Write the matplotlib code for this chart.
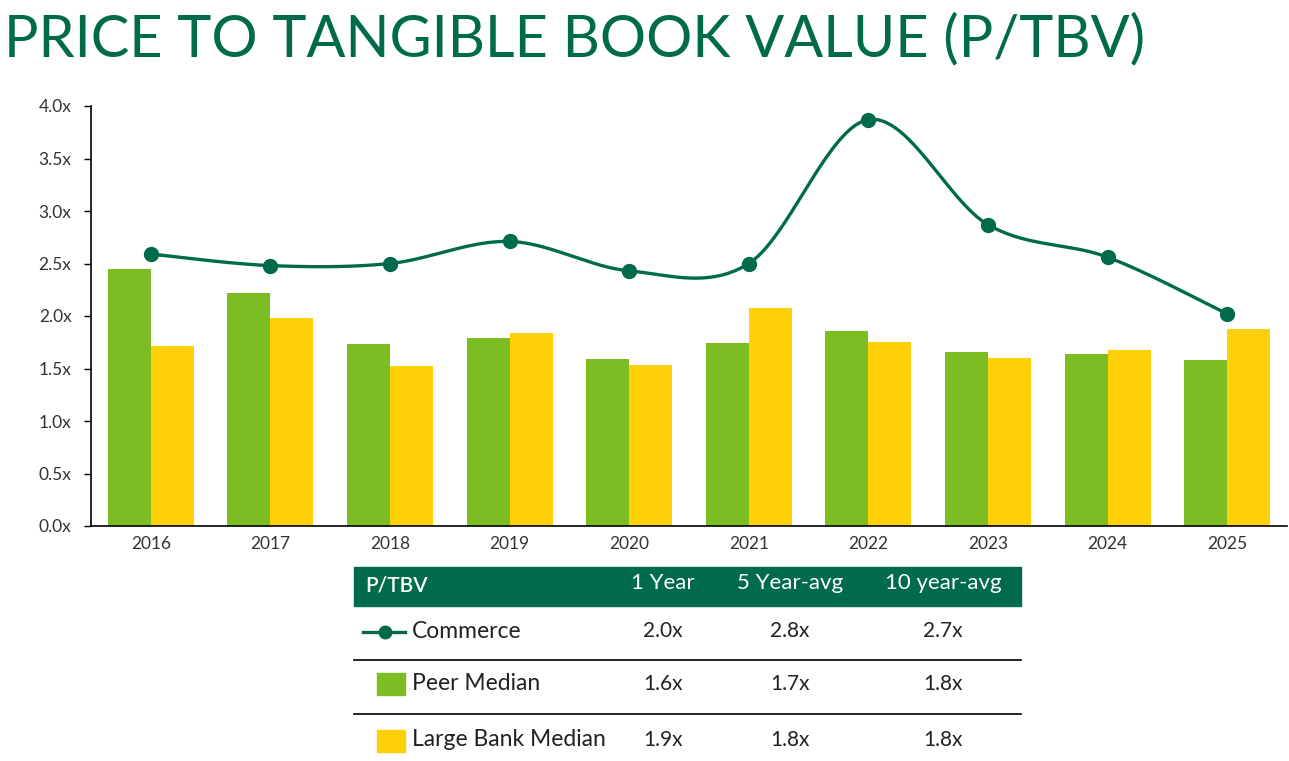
import numpy as np
import matplotlib
matplotlib.use("Agg")
import matplotlib.pyplot as plt
from matplotlib.patches import Rectangle
from matplotlib.lines import Line2D

years = ["2016", "2017", "2018", "2019", "2020", "2021", "2022", "2023", "2024", "2025"]
commerce = [2.59, 2.48, 2.50, 2.71, 2.43, 2.50, 3.87, 2.87, 2.56, 2.02]
peer_median = [2.45, 2.22, 1.73, 1.79, 1.59, 1.74, 1.86, 1.66, 1.64, 1.58]
large_bank_median = [1.71, 1.98, 1.52, 1.84, 1.53, 2.08, 1.75, 1.60, 1.68, 1.88]

table_header = ["P/TBV", "1 Year", "5 Year-avg", "10 year-avg"]
table_rows = ["Commerce", "Peer Median", "Large Bank Median"]
table_values = [["2.0x", "2.8x", "2.7x"],
                ["1.6x", "1.7x", "1.8x"],
                ["1.9x", "1.8x", "1.8x"]]

DARK = "#006B4A"
GREEN = "#7BBD22"
YELLOW = "#FDD007"
TXT = "#333333"

plt.rcParams['font.family'] = ['Lato', 'DejaVu Sans']

W, H = 1289, 761
fig = plt.figure(figsize=(W / 100, H / 100), dpi=100)


def smooth(xs, ys, n=40):
    # excel-style bezier smoothing through the points
    p = np.column_stack([xs, ys]).astype(float)
    pp = np.vstack([p[0], p, p[-1]])
    out = []
    t = np.linspace(0, 1, n)[:, None]
    for i in range(len(p) - 1):
        p0, p1, p2, p3 = pp[i], pp[i + 1], pp[i + 2], pp[i + 3]
        c1 = p1 + (p2 - p0) / 6
        c2 = p2 - (p3 - p1) / 6
        seg = (1 - t) ** 3 * p1 + 3 * (1 - t) ** 2 * t * c1 + 3 * (1 - t) * t ** 2 * c2 + t ** 3 * p2
        out.append(seg)
    out = np.vstack(out)
    return out[:, 0], out[:, 1]


# main chart
ax = fig.add_axes([91 / W, (H - 526) / H, (1287 - 91) / W, 420 / H])
x = np.arange(len(years))
bw = 0.36
ax.bar(x - bw / 2, peer_median, bw, color=GREEN)
ax.bar(x + bw / 2, large_bank_median, bw, color=YELLOW)
sx, sy = smooth(x, commerce)
ax.plot(sx, sy, color=DARK, lw=2.4, zorder=3)
ax.plot(x, commerce, 'o', color=DARK, ms=10, zorder=4)

ax.set_xlim(-0.5, len(years) - 0.5)
ax.set_ylim(0, 4.0)
ax.set_yticks(np.arange(0, 4.01, 0.5))
ax.set_yticklabels([f"{v:.1f}x" for v in np.arange(0, 4.01, 0.5)])
ax.set_xticks(x)
ax.set_xticklabels(years)
ax.tick_params(axis='y', length=5, width=1, labelsize=12.5, labelcolor=TXT, pad=9)
ax.tick_params(axis='x', length=0, labelsize=12.5, labelcolor=TXT, pad=7)
for s in ['top', 'right']:
    ax.spines[s].set_visible(False)
for s in ['left', 'bottom']:
    ax.spines[s].set_color('black')
    ax.spines[s].set_linewidth(1.2)

# overlay in pixel coords for title + table
ov = fig.add_axes([0, 0, 1, 1])
ov.set_xlim(0, W)
ov.set_ylim(H, 0)
ov.axis('off')

ov.text(4, 40, "PRICE TO TANGIBLE BOOK VALUE (P/TBV)", fontsize=41.5, color=DARK,
        ha='left', va='center')

# table
tx0, tx1 = 354, 1021
ov.add_patch(Rectangle((tx0, 567), tx1 - tx0, 39, color=DARK))
col_x = [663, 790, 943]
ov.text(365, 585, table_header[0], color='white', fontsize=15, ha='left', va='center', fontweight='semibold')
for cx, h in zip(col_x, table_header[1:]):
    ov.text(cx, 583, h, color='white', fontsize=16, ha='center', va='center')

row_y = [631, 684, 740]
for ry, name, vals in zip(row_y, table_rows, table_values):
    ov.text(412, ry, name, color='#222222', fontsize=16.5, ha='left', va='center')
    for cx, v in zip(col_x, vals):
        ov.text(cx, ry, v, color='#222222', fontsize=15, ha='center', va='center')

for ly in [660, 714]:
    ov.add_line(Line2D([tx0, tx1], [ly, ly], color='black', lw=1.2))

ov.add_line(Line2D([363, 405], [632, 632], color=DARK, lw=2.4))
ov.plot([385], [632], 'o', color=DARK, ms=9)
ov.add_patch(Rectangle((377, 673), 28, 22, color=GREEN))
ov.add_patch(Rectangle((377, 730), 28, 22, color=YELLOW))

fig.savefig("out.png", dpi=100)
